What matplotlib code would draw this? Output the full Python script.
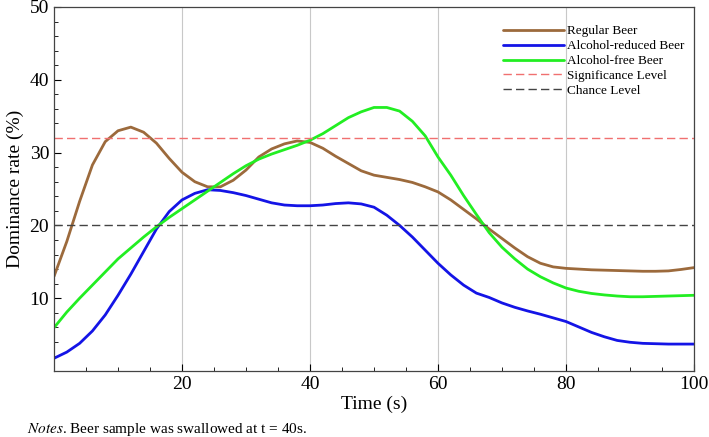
import numpy as np
import matplotlib
matplotlib.use("Agg")
import matplotlib.pyplot as plt
from matplotlib.ticker import MultipleLocator

plt.rcParams['font.family'] = ['Liberation Serif', 'DejaVu Serif']
plt.rcParams['mathtext.fontset'] = 'stix'

# time axis (s)
time_s = np.arange(0, 101, 2)

regular_beer = [13.0, 17.8, 23.3, 28.3, 31.5, 33.0, 33.5, 32.8, 31.3, 29.2,
                27.3, 26.0, 25.3, 25.3, 26.2, 27.6, 29.4, 30.5, 31.2, 31.6,
                31.4, 30.6, 29.5, 28.5, 27.5, 26.9, 26.6, 26.3, 25.9, 25.3,
                24.6, 23.5, 22.2, 20.9, 19.5, 18.2, 16.9, 15.7, 14.8, 14.3,
                14.1, 14.0, 13.9, 13.85, 13.8, 13.75, 13.7, 13.7, 13.75, 13.95,
                14.2]
reduced_beer = [1.75, 2.6, 3.8, 5.5, 7.7, 10.4, 13.3, 16.4, 19.5, 21.9,
                23.5, 24.4, 24.9, 24.8, 24.5, 24.1, 23.6, 23.1, 22.8, 22.7,
                22.7, 22.8, 23.0, 23.1, 22.95, 22.5, 21.4, 20.0, 18.4, 16.6,
                14.8, 13.2, 11.8, 10.7, 10.1, 9.35, 8.75, 8.25, 7.8, 7.3,
                6.8, 6.05, 5.3, 4.7, 4.2, 3.95, 3.8, 3.75, 3.7, 3.7,
                3.7]
free_beer = [5.95, 8.1, 10.0, 11.8, 13.6, 15.4, 16.9, 18.4, 19.8, 21.1,
             22.3, 23.5, 24.7, 25.9, 27.1, 28.2, 29.1, 29.8, 30.4, 31.0,
             31.7, 32.6, 33.7, 34.8, 35.6, 36.2, 36.2, 35.7, 34.3, 32.3,
             29.4, 26.9, 24.1, 21.5, 19.0, 17.0, 15.4, 14.0, 12.95, 12.1,
             11.4, 10.95, 10.65, 10.45, 10.3, 10.2, 10.2, 10.25, 10.3, 10.35,
             10.4]

significance_level = 32
chance_level = 20

fig = plt.figure(figsize=(7.09, 4.37), dpi=100)
ax = fig.add_axes([0.0762, 0.151, 0.9026, 0.833])

line_kw = dict(lw=2.0, solid_joinstyle='round', solid_capstyle='round')
ax.plot(time_s, regular_beer, color='#9c6a3c', label='Regular Beer', **line_kw)
ax.plot(time_s, reduced_beer, color='#1414e6', label='Alcohol-reduced Beer', **line_kw)
ax.plot(time_s, free_beer, color='#22ee22', label='Alcohol-free Beer', **line_kw)
ax.axhline(significance_level, color='#f07070', lw=1.0, dashes=(6, 3), label='Significance Level')
ax.axhline(chance_level, color='#444444', lw=1.0, dashes=(6, 3), label='Chance Level')

ax.set_xlim(0, 100)
ax.set_ylim(0, 50)
ax.set_xticks([20, 40, 60, 80, 100])
ax.set_yticks([10, 20, 30, 40, 50])
ax.xaxis.set_minor_locator(MultipleLocator(5))
ax.yaxis.set_minor_locator(MultipleLocator(2))
ax.tick_params(which='both', direction='in', top=False, right=False, labelsize=14, colors='black')
ax.tick_params(which='major', length=5, width=0.8)
ax.tick_params(which='minor', length=3, width=0.6)
ax.xaxis.grid(True, color='#c8c8c8', lw=0.8)
ax.set_axisbelow(True)
for sp in ax.spines.values():
    sp.set_color('#444444')
    sp.set_linewidth(0.9)

ax.set_xlabel('Time (s)', fontsize=14, labelpad=2)
ax.set_ylabel('Dominance rate (%)', fontsize=14, labelpad=4)

ax.legend(loc='upper left', bbox_to_anchor=(0.7016, 0.95), frameon=False,
          fontsize=9.5, borderpad=0, borderaxespad=0, labelspacing=0.2,
          handlelength=4.6, handletextpad=0.25)

fig.text(0.038, 0.01, r'$\it{Notes}$. Beer sample was swallowed at t = 40s.', fontsize=11)

fig.savefig('out.png', dpi=100)
